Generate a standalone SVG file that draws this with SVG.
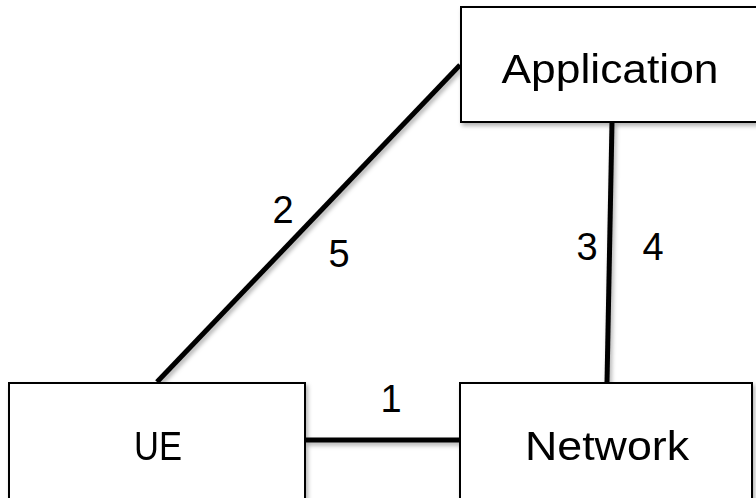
<svg xmlns="http://www.w3.org/2000/svg" width="756" height="498" viewBox="0 0 756 498">
<defs>
<filter id="sh" x="-10%" y="-10%" width="130%" height="130%">
<feDropShadow dx="2" dy="3" stdDeviation="2" flood-color="#000" flood-opacity="0.3"/>
</filter>
</defs>
<style>
.box{fill:#fff;stroke:#000;stroke-width:2}
.lbl{font-family:"Liberation Sans",Arial,sans-serif;font-size:40px;fill:#000;text-anchor:middle}
.num{font-family:"Liberation Sans",Arial,sans-serif;font-size:38px;fill:#000;text-anchor:middle}
.con{stroke:#000;stroke-width:5;fill:none}
</style>
<g id="connectors" filter="url(#sh)">
<line class="con" x1="157" y1="382" x2="460" y2="65"/>
<line class="con" x1="612" y1="122" x2="607" y2="383"/>
<line class="con" x1="305" y1="440" x2="460" y2="440"/>
</g>
<g id="application" filter="url(#sh)">
<rect class="box" x="461" y="7" width="320" height="115"/>
<text class="lbl" x="610" y="83" textLength="217" lengthAdjust="spacingAndGlyphs">Application</text>
</g>
<g id="ue" filter="url(#sh)">
<rect class="box" x="9" y="383" width="296" height="130"/>
<text class="lbl" x="158" y="460" textLength="48" lengthAdjust="spacingAndGlyphs">UE</text>
</g>
<g id="network" filter="url(#sh)">
<rect class="box" x="460" y="383" width="292" height="130"/>
<text class="lbl" x="607" y="460" textLength="164" lengthAdjust="spacingAndGlyphs">Network</text>
</g>
<g id="labels">
<text class="num" x="391" y="412">1</text>
<text class="num" x="283" y="223">2</text>
<text class="num" x="587" y="260">3</text>
<text class="num" x="653" y="260">4</text>
<text class="num" x="339" y="267">5</text>
</g>
</svg>
